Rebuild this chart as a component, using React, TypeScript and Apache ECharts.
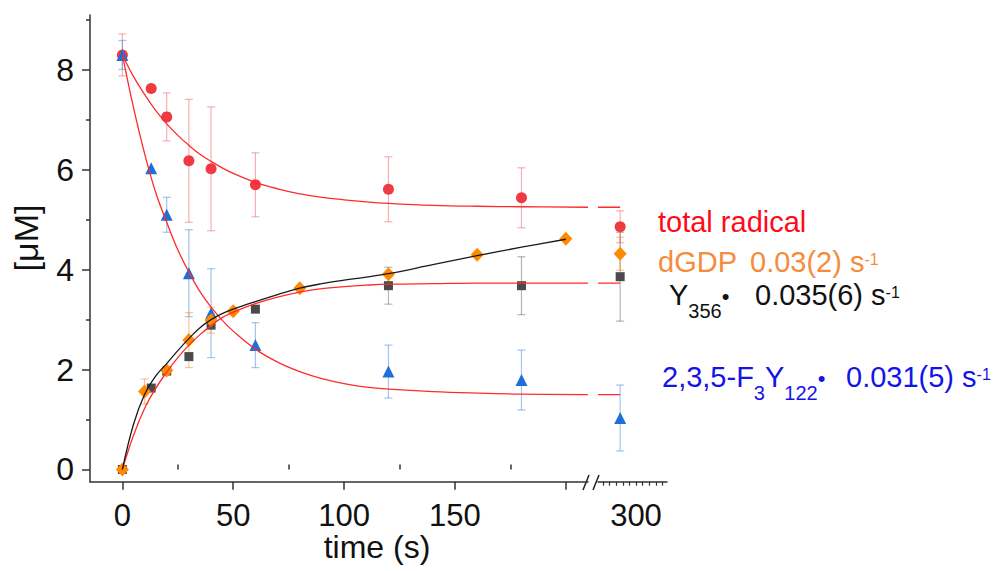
import React, { useEffect, useRef } from "react";
import * as echarts from "echarts";

// ---------- data ----------
const timesMain = [0, 13, 20, 30, 40, 60, 120, 180];
const totalRadical = [8.3, 7.63, 7.06, 6.18, 6.02, 5.7, 5.61, 5.44];
const totalRadicalErr = [0.42, null, 0.48, 1.23, 1.24, 0.64, 0.65, 0.6];
const f3y = [8.3, 6.03, 5.1, 3.93, 3.13, 2.49, 1.96, 1.79];
const f3yErr = [0.29, null, 0.35, 0.87, 0.89, 0.45, 0.53, 0.6];
const y356 = [0, 1.63, 1.97, 2.26, 2.89, 3.21, 3.68, 3.68];
const y356Err = [null, null, null, null, null, null, 0.37, 0.58];

const dgdpTimes = [0, 10, 20, 30, 40, 50, 80, 120, 160, 200];
const dgdp = [0, 1.56, 1.98, 2.59, 2.99, 3.17, 3.63, 3.91, 4.3, 4.62];
const dgdpErr = [null, 0.25, null, 0.55, 0.26, null, null, null, null, null];

// points after the axis break
const breakTime = 288;
const totalRadicalBreak = [4.86, 0.32];
const f3yBreak = [1.03, 0.66];
const y356Break = [3.86, 0.89];
const dgdpBreak = [4.32, 0.33];

// fitted curves
const fitTime = [0, 5, 10, 15, 20, 25, 30, 35, 40, 45, 50, 60, 70, 80, 90, 100, 110, 120, 140, 160, 180, 210];
const fitTotal = [8.3, 7.87, 7.51, 7.19, 6.92, 6.69, 6.49, 6.31, 6.17, 6.04, 5.93, 5.75, 5.62, 5.52, 5.45, 5.4, 5.36, 5.33, 5.29, 5.27, 5.26, 5.25];
const fitF3Y = [8.3, 7.25, 6.33, 5.55, 4.95, 4.4, 3.95, 3.56, 3.25, 2.99, 2.77, 2.41, 2.15, 1.96, 1.82, 1.72, 1.65, 1.61, 1.56, 1.53, 1.51, 1.5];
const fitY356 = [0, 0.68, 1.22, 1.62, 1.95, 2.24, 2.49, 2.7, 2.88, 3.04, 3.15, 3.32, 3.45, 3.55, 3.62, 3.66, 3.69, 3.71, 3.72, 3.73, 3.73, 3.73];
const dgdpFitTime = [0, 5, 10, 15, 20, 25, 30, 35, 40, 45, 50, 60, 70, 80, 90, 100, 110, 120, 140, 160, 180, 200];
const fitDGDP = [0, 0.9, 1.5, 1.87, 2.12, 2.38, 2.62, 2.84, 3.0, 3.12, 3.21, 3.36, 3.5, 3.63, 3.72, 3.79, 3.85, 3.92, 4.1, 4.28, 4.45, 4.61];
const plateauTime = [271.2, 288];
const plateauTotal = 5.25;
const plateauF3Y = 1.5;
const plateauY356 = 3.73;

// ticks / labels
const xMajorTicks = [0, 50, 100, 150, 200];
const xMinorTicks = [25, 75, 125, 175];
const xLabels = [0, 50, 100, 150];
const breakTicks = [275, 280, 285, 290, 295, 300, 305, 310, 315, 320];
const breakLabels = [300];
const yLabels = [0, 2, 4, 6, 8];
const yMinorTicks = [1, 3, 5, 7, 9];

// ---------- helpers ----------
const FONT = '"Liberation Sans", Arial, sans-serif';
const Y_MIN = -0.245;
const Y_MAX = 9.1;

function pairs(xs: number[], ys: number[]) {
  return xs.map((x, i) => [x, ys[i]]);
}
function errRows(xs: number[], ys: number[], es: (number | null)[]) {
  const out: number[][] = [];
  xs.forEach((x, i) => {
    const e = es[i];
    if (e != null) out.push([x, ys[i], ys[i] - e, ys[i] + e]);
  });
  return out;
}

function errRender(color: string) {
  return (_params: any, api: any) => {
    const x = api.value(0);
    const lo = api.value(2);
    const hi = api.value(3);
    const a = api.coord([x, hi]);
    const b = api.coord([x, lo]);
    const w = 4;
    const style = { stroke: color, lineWidth: 1.2, fill: "none" };
    return {
      type: "group",
      children: [
        { type: "line", shape: { x1: a[0], y1: a[1], x2: b[0], y2: b[1] }, style },
        { type: "line", shape: { x1: a[0] - w, y1: a[1], x2: a[0] + w, y2: a[1] }, style },
        { type: "line", shape: { x1: b[0] - w, y1: b[1], x2: b[0] + w, y2: b[1] }, style },
      ],
    };
  };
}

let measureCtx: CanvasRenderingContext2D | null = null;
function textWidth(t: string, size: number) {
  if (!measureCtx) measureCtx = document.createElement("canvas").getContext("2d");
  measureCtx!.font = `${size}px ${FONT}`;
  return measureCtx!.measureText(t).width;
}

// parts: [text, fontSize, baseline offset]
function textRun(x0: number, baseline: number, fill: string, parts: [string, number, number][]) {
  const els: any[] = [];
  let x = x0;
  for (const [t, size, dy] of parts) {
    els.push({
      type: "text",
      x,
      y: baseline + dy - 0.3465 * size,
      silent: true,
      style: {
        text: t,
        font: `${size}px ${FONT}`,
        fill,
        align: "left",
        verticalAlign: "middle",
        textAlign: "left",
        textVerticalAlign: "middle",
      },
    });
    x += textWidth(t, size);
  }
  return els;
}

const RED_FIT = "#ff2b2b";
const AX = "#333";

export default function App() {
  const ref = useRef<HTMLDivElement>(null);

  useEffect(() => {
    document.body.style.margin = "0";
    const chart = echarts.init(ref.current!, undefined, { renderer: "svg" });

    const tickLabel = { fontSize: 31, color: "#111", fontFamily: FONT };

    const scatter = (name: string, data: number[][], symbol: string, size: any, color: string, xi = 0, yi = 0) => ({
      name,
      type: "scatter",
      xAxisIndex: xi,
      yAxisIndex: yi,
      symbol,
      symbolSize: size,
      itemStyle: { color, opacity: 1 },
      data,
      silent: true,
    });
    const fitLine = (data: number[][], color: string, xi = 0, yi = 0) => ({
      type: "line",
      xAxisIndex: xi,
      yAxisIndex: yi,
      data,
      smooth: 0.4,
      showSymbol: false,
      symbol: "none",
      lineStyle: { color, width: 1.3 },
      silent: true,
    });
    const errSeries = (data: number[][], color: string, xi = 0, yi = 0) => ({
      type: "custom",
      xAxisIndex: xi,
      yAxisIndex: yi,
      renderItem: errRender(color),
      encode: { x: 0, y: 1 },
      data,
      silent: true,
    });

    const ERR_RED = "rgba(238,80,85,0.45)";
    const ERR_BLUE = "rgba(70,140,230,0.5)";
    const ERR_GRAY = "rgba(90,90,90,0.45)";
    const ERR_ORANGE = "rgba(245,150,50,0.55)";
    const C_RED = "#ee3a40";
    const C_BLUE = "#1f6fd9";
    const C_GRAY = "#4a4a4a";
    const C_ORANGE = "#ff8a00";

    const bt = breakTime;

    const graphics: any[] = [
      // axis break marks
      { type: "line", shape: { x1: 583, y1: 490, x2: 589, y2: 475 }, style: { stroke: "#222", lineWidth: 1.5 } },
      { type: "line", shape: { x1: 593, y1: 490, x2: 599, y2: 475 }, style: { stroke: "#222", lineWidth: 1.5 } },
      {
        type: "text",
        x: 377,
        y: 547,
        style: { text: "time (s)", font: `32px ${FONT}`, fill: "#111", align: "center", verticalAlign: "middle", textAlign: "center", textVerticalAlign: "middle" },
      },
      {
        type: "text",
        x: 26,
        y: 238,
        rotation: Math.PI / 2,
        style: { text: "[μM]", font: `34px ${FONT}`, fill: "#111", align: "center", verticalAlign: "middle", textAlign: "center", textVerticalAlign: "middle" },
      },
      ...textRun(658, 232, "#ff0a1a", [["total radical", 29, 0]]),
      ...textRun(658, 272, "#f58c3c", [["dGDP", 29, 0]]),
      ...textRun(750, 272, "#f58c3c", [["0.03(2) s", 29, 0], ["-1", 16, -7]]),
      ...textRun(669, 305, "#111", [["Y", 29, 0], ["356", 20, 13], ["•", 22, -1]]),
      ...textRun(755, 305, "#111", [["0.035(6) s", 29, 0], ["-1", 16, -7]]),
      ...textRun(662, 387, "#1414e6", [["2,3,5-F", 29, 0], ["3", 20, 13], ["Y", 29, 0], ["122", 20, 13], ["•", 22, -1]]),
      ...textRun(846, 387, "#1414e6", [["0.031(5) s", 29, 0], ["-1", 16, -7]]),
    ];

    const option: any = {
      animation: false,
      backgroundColor: "#fff",
      grid: [
        { left: 90, top: 15, width: 498, height: 466.7 },
        { left: 598, top: 15, width: 69, height: 466.7 },
      ],
      xAxis: [
        {
          gridIndex: 0,
          type: "value",
          min: -14.6,
          max: 210,
          axisLine: { show: true, onZero: false, lineStyle: { color: AX, width: 1.5 } },
          axisTick: { show: true, customValues: xMajorTicks, length: 8, lineStyle: { color: AX, width: 1.5 } },
          axisLabel: { ...tickLabel, customValues: xLabels, margin: 18 },
          splitLine: { show: false },
        },
        {
          gridIndex: 1,
          type: "value",
          min: 271.2,
          max: 323.5,
          axisLine: { show: true, onZero: false, lineStyle: { color: AX, width: 1.5 } },
          axisTick: { show: true, customValues: breakTicks, length: 4, lineStyle: { color: AX, width: 1.2 } },
          axisLabel: { ...tickLabel, customValues: breakLabels, margin: 18 },
          splitLine: { show: false },
        },
        {
          gridIndex: 0,
          type: "value",
          min: -14.6,
          max: 210,
          axisLine: { show: false },
          axisTick: { show: true, customValues: xMinorTicks, length: 5, lineStyle: { color: AX, width: 1.5 } },
          axisLabel: { show: false },
          splitLine: { show: false },
        },
      ],
      yAxis: [
        {
          gridIndex: 0,
          type: "value",
          min: Y_MIN,
          max: Y_MAX,
          axisLine: { show: true, onZero: false, lineStyle: { color: AX, width: 1.5 } },
          axisTick: { show: true, customValues: yLabels, length: 8, lineStyle: { color: AX, width: 1.5 } },
          axisLabel: { ...tickLabel, fontSize: 32, customValues: yLabels, margin: 16 },
          splitLine: { show: false },
        },
        {
          gridIndex: 0,
          type: "value",
          min: Y_MIN,
          max: Y_MAX,
          position: "left",
          axisLine: { show: false, onZero: false },
          axisTick: { show: true, customValues: yMinorTicks, length: 4, lineStyle: { color: AX, width: 1.5 } },
          axisLabel: { show: false },
          splitLine: { show: false },
        },
        {
          gridIndex: 1,
          type: "value",
          min: Y_MIN,
          max: Y_MAX,
          show: false,
          splitLine: { show: false },
        },
      ],
      graphic: graphics,
      series: [
        // fits, main segment
        fitLine(pairs(fitTime, fitTotal), RED_FIT),
        fitLine(pairs(fitTime, fitF3Y), RED_FIT),
        fitLine(pairs(fitTime, fitY356), RED_FIT),
        fitLine(pairs(dgdpFitTime, fitDGDP), "#1a1a1a"),
        // fits, break segment
        fitLine(plateauTime.map((t) => [t, plateauTotal]), RED_FIT, 1, 2),
        fitLine(plateauTime.map((t) => [t, plateauF3Y]), RED_FIT, 1, 2),
        fitLine(plateauTime.map((t) => [t, plateauY356]), RED_FIT, 1, 2),
        // error bars
        errSeries(errRows(timesMain, totalRadical, totalRadicalErr), ERR_RED),
        errSeries(errRows(timesMain, f3y, f3yErr), ERR_BLUE),
        errSeries(errRows(timesMain, y356, y356Err), ERR_GRAY),
        errSeries(errRows(dgdpTimes, dgdp, dgdpErr), ERR_ORANGE),
        errSeries(errRows([bt], [y356Break[0]], [y356Break[1]]), ERR_GRAY, 1, 2),
        errSeries(errRows([bt], [f3yBreak[0]], [f3yBreak[1]]), ERR_BLUE, 1, 2),
        errSeries(errRows([bt], [dgdpBreak[0]], [dgdpBreak[1]]), ERR_ORANGE, 1, 2),
        errSeries(errRows([bt], [totalRadicalBreak[0]], [totalRadicalBreak[1]]), ERR_RED, 1, 2),
        // markers
        scatter("total radical", pairs(timesMain, totalRadical), "circle", 11, C_RED),
        scatter("F3Y", pairs(timesMain, f3y), "triangle", 12, C_BLUE),
        scatter("Y356", pairs(timesMain, y356), "rect", 9, C_GRAY),
        scatter("dGDP", pairs(dgdpTimes, dgdp), "diamond", [13, 14], C_ORANGE),
        scatter("total radical b", [[bt, totalRadicalBreak[0]]], "circle", 11, C_RED, 1, 2),
        scatter("F3Y b", [[bt, f3yBreak[0]]], "triangle", 12, C_BLUE, 1, 2),
        scatter("Y356 b", [[bt, y356Break[0]]], "rect", 9, C_GRAY, 1, 2),
        scatter("dGDP b", [[bt, dgdpBreak[0]]], "diamond", [13, 14], C_ORANGE, 1, 2),
      ],
    };

    chart.setOption(option);
    return () => chart.dispose();
  }, []);

  return <div ref={ref} style={{ width: 995, height: 571 }} />;
}
